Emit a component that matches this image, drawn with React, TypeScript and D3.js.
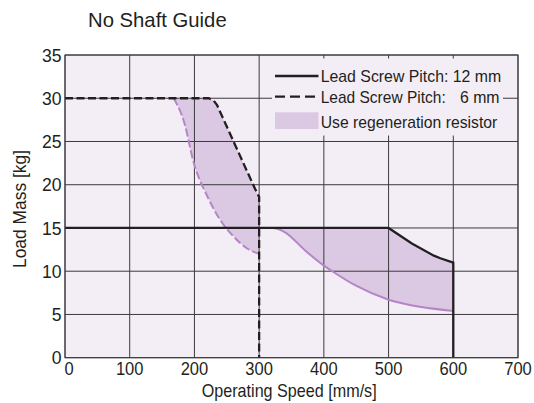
import React from "react";
import * as d3 from "d3";

const W = 534;
const H = 403;

const xTicks = [0, 100, 200, 300, 400, 500, 600, 700];
const yTicks = [0, 5, 10, 15, 20, 25, 30, 35];

// Lead screw pitch 12 mm (solid black)
const pitch12Speed = [0, 500, 536, 570, 580, 600, 600];
const pitch12Mass = [15, 15, 13.2, 11.8, 11.5, 11.0, 0];

// Lead screw pitch 6 mm (dashed black)
const pitch6Speed = [0, 222, 230, 235, 292, 297, 300, 300];
const pitch6Mass = [30, 30, 29.7, 29.2, 19.8, 19.0, 18.6, 0];

// Regeneration boundary, 12 mm (solid purple)
const regen12Speed = [300, 320, 340, 371, 400, 413, 449, 500, 551, 600];
const regen12Mass = [15, 15, 14.5, 12.4, 10.65, 10.0, 8.35, 6.7, 5.85, 5.4];

// Regeneration boundary, 6 mm (dashed purple)
const regen6Speed = [168, 185, 198, 221, 241, 262, 282, 300];
const regen6Mass = [30, 27, 22.8, 18.5, 15.8, 13.9, 12.6, 12.0];

const legendLabels = ["Lead Screw Pitch: 12 mm", "Lead Screw Pitch:", "6 mm", "Use regeneration resistor"];

const COND = "'Liberation Sans Narrow','Arial Narrow','Liberation Sans',Arial,sans-serif";
const REG = "'Liberation Sans',Arial,Helvetica,sans-serif";

const PLOT_BG = "#f3eef6";
const FILL = "#dbc8e3";
const PURPLE = "#b585c8";
const INK = "#231f20";
const GRID = "#3c3a3c";

export default function App() {
  const x = d3.scaleLinear().domain([0, 700]).range([65, 518]);
  const y = d3.scaleLinear().domain([0, 35]).range([357.7, 55]);

  const zip = (a: number[], b: number[]) => a.map((v, i) => [v, b[i]] as [number, number]);
  const p12 = zip(pitch12Speed, pitch12Mass);
  const p6 = zip(pitch6Speed, pitch6Mass);
  const r12 = zip(regen12Speed, regen12Mass);
  const r6 = zip(regen6Speed, regen6Mass);

  const lin = d3.line<[number, number]>().x((d) => x(d[0])).y((d) => y(d[1]));
  const smooth = d3
    .line<[number, number]>()
    .x((d) => x(d[0]))
    .y((d) => y(d[1]))
    .curve(d3.curveMonotoneX);

  const segs = (pts: [number, number][]) => pts.map((d) => `L${x(d[0])},${y(d[1])}`).join("");

  const r6End = r6[r6.length - 1][0];
  const p6Upper = p6.filter((d) => d[0] <= r6End && d[1] > 0 && d[0] > 0).reverse();
  const area6 = smooth(r6) + segs(p6Upper) + "Z";

  const r12Start = r12[0][0];
  const r12End = r12[r12.length - 1][0];
  const p12Upper = p12.filter((d) => d[0] >= r12Start && d[0] <= r12End && d[1] > 0);
  const area12 =
    smooth(r12) + segs([...p12Upper].reverse()) + `L${x(r12Start)},${y(r12[0][1])}` + "Z";

  const x0 = x(0), x1 = x(700), y0 = y(0), y1 = y(35);

  const lgX = 272, lgY = 58.5, lgW = 231, lgH = 77;

  return (
    <svg
      width={W}
      height={H}
      viewBox={`0 0 ${W} ${H}`}
      style={{ position: "absolute", left: 0, top: 0, background: "#fff" }}
    >
      <rect x={0} y={0} width={W} height={H} fill="#fff" />
      <text x={88} y={27.3} fontFamily={REG} fontSize={20.3} fill={INK}>
        No Shaft Guide
      </text>

      <rect x={x0} y={y1} width={x1 - x0} height={y0 - y1} fill={PLOT_BG} />

      <path d={area6} fill={FILL} stroke="none" />
      <path d={area12} fill={FILL} stroke="none" />

      {xTicks.map((t) => (
        <line key={"gx" + t} x1={x(t)} x2={x(t)} y1={y1} y2={y0} stroke={GRID} strokeWidth={1} />
      ))}
      {yTicks.map((t) => (
        <line key={"gy" + t} x1={x0} x2={x1} y1={y(t)} y2={y(t)} stroke={GRID} strokeWidth={1} />
      ))}

      <rect x={lgX} y={lgY} width={lgW} height={lgH} fill={PLOT_BG} />

      <path d={smooth(r6) || ""} fill="none" stroke={PURPLE} strokeWidth={2} strokeDasharray="8,3" />
      <path d={smooth(r12) || ""} fill="none" stroke={PURPLE} strokeWidth={2} />
      <path d={lin(p6) || ""} fill="none" stroke={INK} strokeWidth={2.3} strokeDasharray="8,3.5" />
      <path d={lin(p12) || ""} fill="none" stroke={INK} strokeWidth={2.3} />

      <rect x={x0} y={y1} width={x1 - x0} height={y0 - y1} fill="none" stroke={GRID} strokeWidth={1} />

      {xTicks.map((t) => (
        <text
          key={"xl" + t}
          x={t === 0 ? x(t) + 4 : x(t)}
          y={375}
          textAnchor="middle"
          fontFamily={COND}
          fontSize={18.5}
          fill={INK}
          textLength={String(t).length * 9.2}
          lengthAdjust="spacingAndGlyphs"
        >
          {t}
        </text>
      ))}
      {yTicks.map((t) => (
        <text
          key={"yl" + t}
          x={61.5}
          y={y(t) + 6.6}
          textAnchor="end"
          fontFamily={COND}
          fontSize={18.5}
          fill={INK}
          textLength={String(t).length * 9.8}
          lengthAdjust="spacingAndGlyphs"
        >
          {t}
        </text>
      ))}

      <text
        x={201.7}
        y={397}
        fontFamily={COND}
        fontSize={19}
        fill={INK}
        textLength={175}
        lengthAdjust="spacingAndGlyphs"
      >
        Operating Speed [mm/s]
      </text>
      <text
        transform={`translate(25.5,268) rotate(-90)`}
        fontFamily={COND}
        fontSize={18}
        fill={INK}
        textLength={118}
        lengthAdjust="spacingAndGlyphs"
      >
        Load Mass [kg]
      </text>

      <line x1={275} x2={318.5} y1={76} y2={76} stroke={INK} strokeWidth={2.3} />
      <line x1={275} x2={318.5} y1={96.7} y2={96.7} stroke={INK} strokeWidth={2.3} strokeDasharray="10,5" />
      <rect x={275} y={112.3} width={43.5} height={16.7} fill={FILL} />
      <text x={320.7} y={82.3} fontFamily={COND} fontSize={17} fill={INK} textLength={180.5} lengthAdjust="spacingAndGlyphs">
        {legendLabels[0]}
      </text>
      <text x={320.7} y={102.9} fontFamily={COND} fontSize={17} fill={INK} textLength={125} lengthAdjust="spacingAndGlyphs">
        {legendLabels[1]}
      </text>
      <text x={460} y={102.9} fontFamily={COND} fontSize={17} fill={INK} textLength={39.5} lengthAdjust="spacingAndGlyphs">
        {legendLabels[2]}
      </text>
      <text x={320.7} y={127.5} fontFamily={COND} fontSize={17} fill={INK} textLength={176.6} lengthAdjust="spacingAndGlyphs">
        {legendLabels[3]}
      </text>
    </svg>
  );
}
